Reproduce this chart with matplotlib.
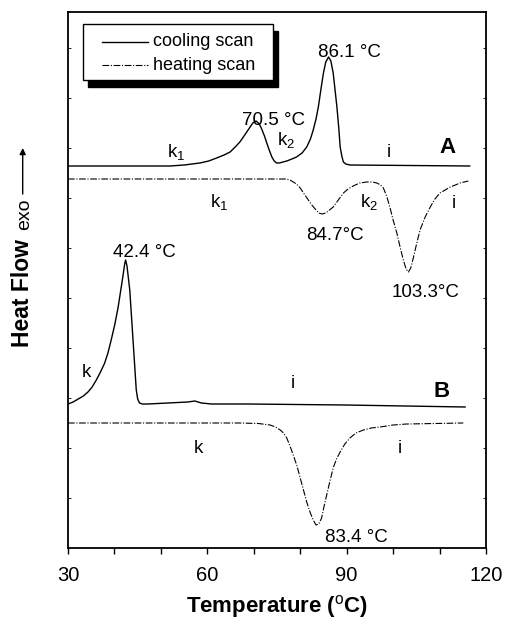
import matplotlib
matplotlib.use("Agg")
import matplotlib.pyplot as plt
from matplotlib.patches import Rectangle
from matplotlib.lines import Line2D

plt.rcParams['font.family'] = ['Liberation Sans', 'DejaVu Sans']
plt.rcParams['mathtext.fontset'] = 'custom'
plt.rcParams['mathtext.rm'] = 'Liberation Sans'
plt.rcParams['mathtext.default'] = 'regular'

# ---- data (temperature in degC, heat flow in arbitrary units, curves offset) ----
coolA_T = [30, 47.7, 52, 55, 58.4, 60.3, 62.0, 63.6, 64.9, 66.0, 67.0, 68.2, 69.2, 69.8, 70.5,
           71.2, 71.7, 72.3, 72.8, 73.4, 73.9, 74.4, 74.9, 75.5, 76.3, 77.1, 78.2, 79.2, 80.4,
           81.4, 82.2, 82.8, 83.4, 83.9, 84.5, 85.0, 85.5, 86.1, 86.6, 87.1, 87.5, 87.9, 88.3,
           88.6, 89.0, 89.3, 89.8, 90.7, 116.5]
coolA_H = [3.82, 3.82, 3.82, 3.83, 3.85, 3.87, 3.90, 3.93, 3.96, 4.01, 4.06, 4.14, 4.21, 4.25, 4.27,
           4.24, 4.19, 4.12, 4.05, 3.97, 3.91, 3.87, 3.85, 3.85, 3.86, 3.87, 3.89, 3.91, 3.95,
           4.01, 4.09, 4.18, 4.29, 4.41, 4.60, 4.75, 4.86, 4.91, 4.87, 4.75, 4.58, 4.41, 4.20,
           4.01, 3.91, 3.86, 3.84, 3.83, 3.82]

heatA_T = [30, 77.0, 77.8, 78.5, 79.2, 80.0, 80.7, 81.6, 82.5, 83.4, 84.0, 84.7, 85.5, 86.3,
           87.1, 88.2, 89.3, 90.3, 91.4, 92.8, 94.3, 95.5, 96.5, 97.3, 97.9, 98.6, 99.3, 100.0,
           100.8, 101.5, 102.2, 102.8, 103.3, 103.8, 104.4, 105.1, 105.8, 106.9, 108.0, 109.0,
           110.1, 111.2, 112.3, 113.4, 114.4, 116.2]
heatA_H = [3.69, 3.69, 3.68, 3.66, 3.64, 3.60, 3.55, 3.49, 3.43, 3.38, 3.35, 3.34, 3.35, 3.38,
           3.41, 3.48, 3.55, 3.59, 3.62, 3.65, 3.66, 3.66, 3.65, 3.63, 3.60, 3.52, 3.41, 3.28,
           3.15, 3.01, 2.88, 2.79, 2.76, 2.80, 2.91, 3.05, 3.18, 3.31, 3.41, 3.49,
           3.55, 3.58, 3.61, 3.63, 3.65, 3.67]

coolB_T = [30, 31.1, 32.2, 33.3, 34.3, 35.2, 36.1, 37.0, 37.9, 38.6, 39.3, 40.1, 40.8, 41.3,
           41.8, 42.2, 42.4, 42.7, 43.3, 44.0, 44.7, 45.0, 45.4, 46.0, 47.2, 51.5, 55.8, 57.3,
           58.7, 60.9, 68.8, 89.7, 115.5]
coolB_H = [1.44, 1.46, 1.49, 1.52, 1.56, 1.61, 1.68, 1.76, 1.85, 1.95, 2.08, 2.24, 2.41, 2.56,
           2.71, 2.84, 2.88, 2.82, 2.58, 2.08, 1.58, 1.49, 1.45, 1.44, 1.44, 1.45, 1.46, 1.47,
           1.45, 1.44, 1.44, 1.43, 1.41]

heatB_T = [30, 67.0, 71.0, 73.5, 74.7, 75.7, 76.4, 77.1, 77.8, 78.5, 79.3, 80.0, 80.7, 81.4,
           82.1, 82.8, 83.4, 84.0, 84.6, 85.1, 85.7, 86.4, 87.1, 87.8, 88.6, 89.6, 90.7, 92.0,
           93.6, 95.3, 97.2, 100.0, 102.9, 115.1]
heatB_H = [1.25, 1.25, 1.245, 1.23, 1.21, 1.18, 1.15, 1.10, 1.02, 0.93, 0.82, 0.70, 0.58, 0.46,
           0.36, 0.28, 0.23, 0.24, 0.30, 0.41, 0.53, 0.67, 0.80, 0.89, 0.96, 1.04, 1.10, 1.15,
           1.18, 1.20, 1.21, 1.23, 1.24, 1.25]

xticks_major = [30, 60, 90, 120]
xticks_minor = [40, 50, 70, 80, 100, 110]

# annotations: (text, T, H, ha, weight)
labels = [
    ("86.1 °C", 90.5, 4.91, 'center', 'normal'),
    ("70.5 °C", 74.3, 4.23, 'center', 'normal'),
    ("k$_1$", 51.3, 3.91, 'left', 'normal'),
    ("k$_2$", 75.0, 4.03, 'left', 'normal'),
    ("i", 99.1, 3.91, 'center', 'normal'),
    ("A", 111.7, 3.95, 'center', 'bold'),
    ("k$_1$", 60.6, 3.41, 'left', 'normal'),
    ("k$_2$", 92.9, 3.41, 'left', 'normal'),
    ("i", 113.1, 3.40, 'center', 'normal'),
    ("84.7°C", 87.5, 3.08, 'center', 'normal'),
    ("103.3°C", 106.9, 2.51, 'center', 'normal'),
    ("42.4 °C", 46.5, 2.91, 'center', 'normal'),
    ("k", 33.9, 1.71, 'center', 'normal'),
    ("i", 78.5, 1.60, 'center', 'normal'),
    ("B", 110.5, 1.51, 'center', 'bold'),
    ("k", 58.1, 0.95, 'center', 'normal'),
    ("i", 101.5, 0.95, 'center', 'normal'),
    ("83.4 °C", 92.1, 0.06, 'center', 'normal'),
]

W, H = 505, 621
fig = plt.figure(figsize=(W / 100, H / 100), dpi=100)
ax = fig.add_axes([68 / W, (H - 548) / H, 418 / W, 536 / H])

dashdot = (0, (6, 1.5, 1, 1.5))
ax.plot(coolA_T, coolA_H, color='black', lw=1.0, solid_joinstyle='round')
ax.plot(heatA_T, heatA_H, color='black', lw=0.8, linestyle=dashdot)
ax.plot(coolB_T, coolB_H, color='black', lw=1.0, solid_joinstyle='round')
ax.plot(heatB_T, heatB_H, color='black', lw=0.8, linestyle=dashdot)

ax.set_xlim(30, 120)
ax.set_ylim(0, 5.36)
ax.set_xticks(xticks_major)
ax.set_xticks(xticks_minor, minor=True)
ax.tick_params(axis='x', which='both', direction='out', length=4, width=1.0,
               labelsize=14.5, pad=9)
ax.set_yticks([0.5, 1.0, 1.5, 2.0, 2.5, 3.0, 3.5, 4.0, 4.5, 5.0])
ax.tick_params(axis='y', which='both', direction='in', length=2, width=0.6,
               left=True, right=True, labelleft=False)
for s in ax.spines.values():
    s.set_linewidth(1.3)

ax.set_xlabel("Temperature ($^{\\rm o}$C)", fontsize=16, fontweight='bold', labelpad=6)

for txt, t, h, ha, wt in labels:
    ax.text(t, h, txt, ha=ha, va='baseline', fontsize=16 if wt == 'bold' else 13.5,
            fontweight=wt)

# y label: "Heat Flow" bold + "exo" + arrow
fig.text(29 / W, (H - 347) / H, "Heat Flow", rotation=90, rotation_mode='anchor',
         ha='left', va='baseline', fontsize=16.5, fontweight='bold')
fig.text(29 / W, (H - 230) / H, "exo", rotation=90, rotation_mode='anchor',
         ha='left', va='baseline', fontsize=14)
ax.annotate('', xy=(22.7 / W, (H - 148) / H), xytext=(22.7 / W, (H - 194) / H),
            xycoords='figure fraction', textcoords='figure fraction',
            arrowprops=dict(arrowstyle='-|>', lw=1.0, color='black', mutation_scale=9,
                            shrinkA=0, shrinkB=0),
            annotation_clip=False)

# legend with solid black shadow
def fx(px):
    return (px - 68) / 418

def fy(py):
    return (548 - py) / 536

ax.add_patch(Rectangle((fx(88), fy(87)), fx(278) - fx(88), fy(31) - fy(87),
                       transform=ax.transAxes, facecolor='black', edgecolor='black',
                       zorder=5))
ax.add_patch(Rectangle((fx(83), fy(80)), fx(273) - fx(83), fy(24) - fy(80),
                       transform=ax.transAxes, facecolor='white', edgecolor='black',
                       lw=1.0, zorder=6))
ax.add_line(Line2D([fx(102), fx(148)], [fy(42), fy(42)], transform=ax.transAxes,
                   color='black', lw=1.0, zorder=7))
ax.add_line(Line2D([fx(102), fx(148)], [fy(65), fy(65)], transform=ax.transAxes,
                   color='black', lw=0.8, linestyle=dashdot, zorder=7))
ax.text(fx(153), fy(42), "cooling scan", transform=ax.transAxes, ha='left', va='center',
        fontsize=13, zorder=7)
ax.text(fx(153), fy(65), "heating scan", transform=ax.transAxes, ha='left', va='center',
        fontsize=13, zorder=7)

fig.savefig("out.png", dpi=100)
